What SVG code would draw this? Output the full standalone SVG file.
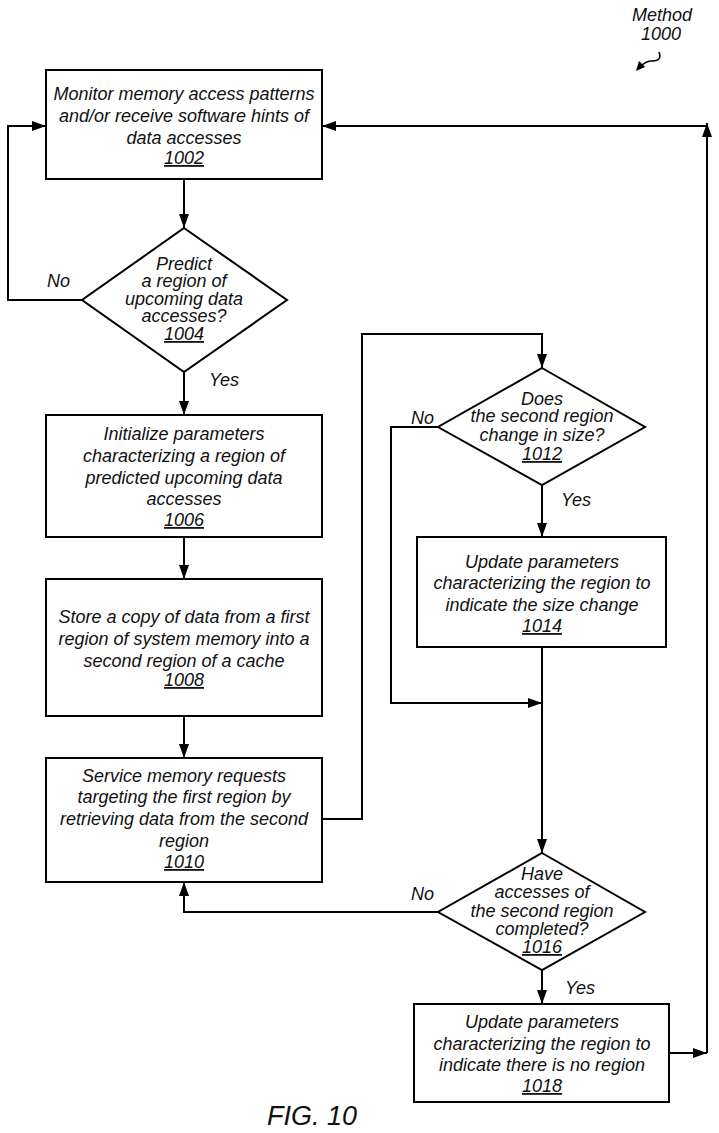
<svg xmlns="http://www.w3.org/2000/svg" width="719" height="1133" viewBox="0 0 719 1133">
<style>
  .box { fill: #fff; stroke: #000; stroke-width: 2; }
  .ln { fill: none; stroke: #000; stroke-width: 2; }
  text { font-family: "Liberation Sans", Arial, sans-serif; font-style: italic; font-size: 18px; fill: #111; text-anchor: middle; }
  .num { text-decoration: underline; }
  .lbl { text-anchor: start; }
  .fig { font-size: 27px; }
</style>
<defs>
  <marker id="ah" markerUnits="userSpaceOnUse" markerWidth="14" markerHeight="10" refX="14" refY="5" orient="auto">
    <path d="M0,0 L14,5 L0,10 z" fill="#000"/>
  </marker>
</defs>
<rect width="719" height="1133" fill="#fff"/>

<g id="connectors">
  <path class="ln" d="M184,179 V228" marker-end="url(#ah)"/>
  <path class="ln" d="M184,372 V415" marker-end="url(#ah)"/>
  <path class="ln" d="M184,537 V579" marker-end="url(#ah)"/>
  <path class="ln" d="M184,716 V758" marker-end="url(#ah)"/>
  <path class="ln" d="M82,300 H8 V126 H46" marker-end="url(#ah)"/>
  <path class="ln" d="M322,819 H362 V334 H542 V368" marker-end="url(#ah)"/>
  <path class="ln" d="M542,485 V537" marker-end="url(#ah)"/>
  <path class="ln" d="M438,427 H391 V703 H542" marker-end="url(#ah)"/>
  <path class="ln" d="M542,647 V853" marker-end="url(#ah)"/>
  <path class="ln" d="M438,912 H184 V882" marker-end="url(#ah)"/>
  <path class="ln" d="M542,970 V1004" marker-end="url(#ah)"/>
  <path class="ln" d="M669,1053 H707" marker-end="url(#ah)"/>
  <path class="ln" d="M707,1053 V123" marker-end="url(#ah)"/>
  <path class="ln" d="M707,126 H322" marker-end="url(#ah)"/>
  <text class="lbl" x="47" y="287">No</text>
  <text class="lbl" x="209" y="386">Yes</text>
  <text class="lbl" x="411" y="424">No</text>
  <text class="lbl" x="561" y="506">Yes</text>
  <text class="lbl" x="411" y="900">No</text>
  <text class="lbl" x="565" y="994">Yes</text>
</g>

<g id="method-label">
  <text x="662" y="21">Method</text>
  <text x="661" y="40">1000</text>
  <path d="M659,52 C661,57 660,61 652,61 C647,61 644,63 641,66" fill="none" stroke="#000" stroke-width="1.6"/>
  <path d="M636,71 L639,61 L645,67 z" fill="#000"/>
</g>

<g id="n1002">
  <rect class="box" x="46" y="70" width="276" height="109"/>
  <text x="184" y="100">Monitor memory access patterns</text>
  <text x="184" y="122">and/or receive software hints of</text>
  <text x="184" y="144">data accesses</text>
  <text class="num" x="184" y="164">1002</text>
</g>

<g id="n1004">
  <polygon class="box" points="184,228 287,300 184,372 82,300"/>
  <text x="184" y="270">Predict</text>
  <text x="184" y="287">a region of</text>
  <text x="184" y="305">upcoming data</text>
  <text x="184" y="322">accesses?</text>
  <text class="num" x="184" y="340">1004</text>
</g>

<g id="n1006">
  <rect class="box" x="46" y="415" width="276" height="122"/>
  <text x="184" y="440">Initialize parameters</text>
  <text x="184" y="462">characterizing a region of</text>
  <text x="184" y="484">predicted upcoming data</text>
  <text x="184" y="505">accesses</text>
  <text class="num" x="184" y="526">1006</text>
</g>

<g id="n1008">
  <rect class="box" x="46" y="579" width="276" height="137"/>
  <text x="184" y="623">Store a copy of data from a first</text>
  <text x="184" y="645">region of system memory into a</text>
  <text x="184" y="667">second region of a cache</text>
  <text class="num" x="184" y="686">1008</text>
</g>

<g id="n1010">
  <rect class="box" x="46" y="758" width="276" height="124"/>
  <text x="184" y="782">Service memory requests</text>
  <text x="184" y="803">targeting the first region by</text>
  <text x="184" y="825">retrieving data from the second</text>
  <text x="184" y="847">region</text>
  <text class="num" x="184" y="868">1010</text>
</g>

<g id="n1012">
  <polygon class="box" points="542,368 645,427 542,485 438,427"/>
  <text x="542" y="405">Does</text>
  <text x="542" y="422">the second region</text>
  <text x="542" y="441">change in size?</text>
  <text class="num" x="542" y="460">1012</text>
</g>

<g id="n1014">
  <rect class="box" x="417" y="537" width="249" height="110"/>
  <text x="542" y="568">Update parameters</text>
  <text x="542" y="589">characterizing the region to</text>
  <text x="542" y="611">indicate the size change</text>
  <text class="num" x="542" y="632">1014</text>
</g>

<g id="n1016">
  <polygon class="box" points="542,853 645,912 542,970 438,912"/>
  <text x="542" y="880">Have</text>
  <text x="542" y="898">accesses of</text>
  <text x="542" y="917">the second region</text>
  <text x="542" y="935">completed?</text>
  <text class="num" x="542" y="953">1016</text>
</g>

<g id="n1018">
  <rect class="box" x="414" y="1004" width="255" height="98"/>
  <text x="542" y="1028">Update parameters</text>
  <text x="542" y="1050">characterizing the region to</text>
  <text x="542" y="1071">indicate there is no region</text>
  <text class="num" x="542" y="1092">1018</text>
</g>

<text class="fig" x="312" y="1125">FIG. 10</text>
</svg>
